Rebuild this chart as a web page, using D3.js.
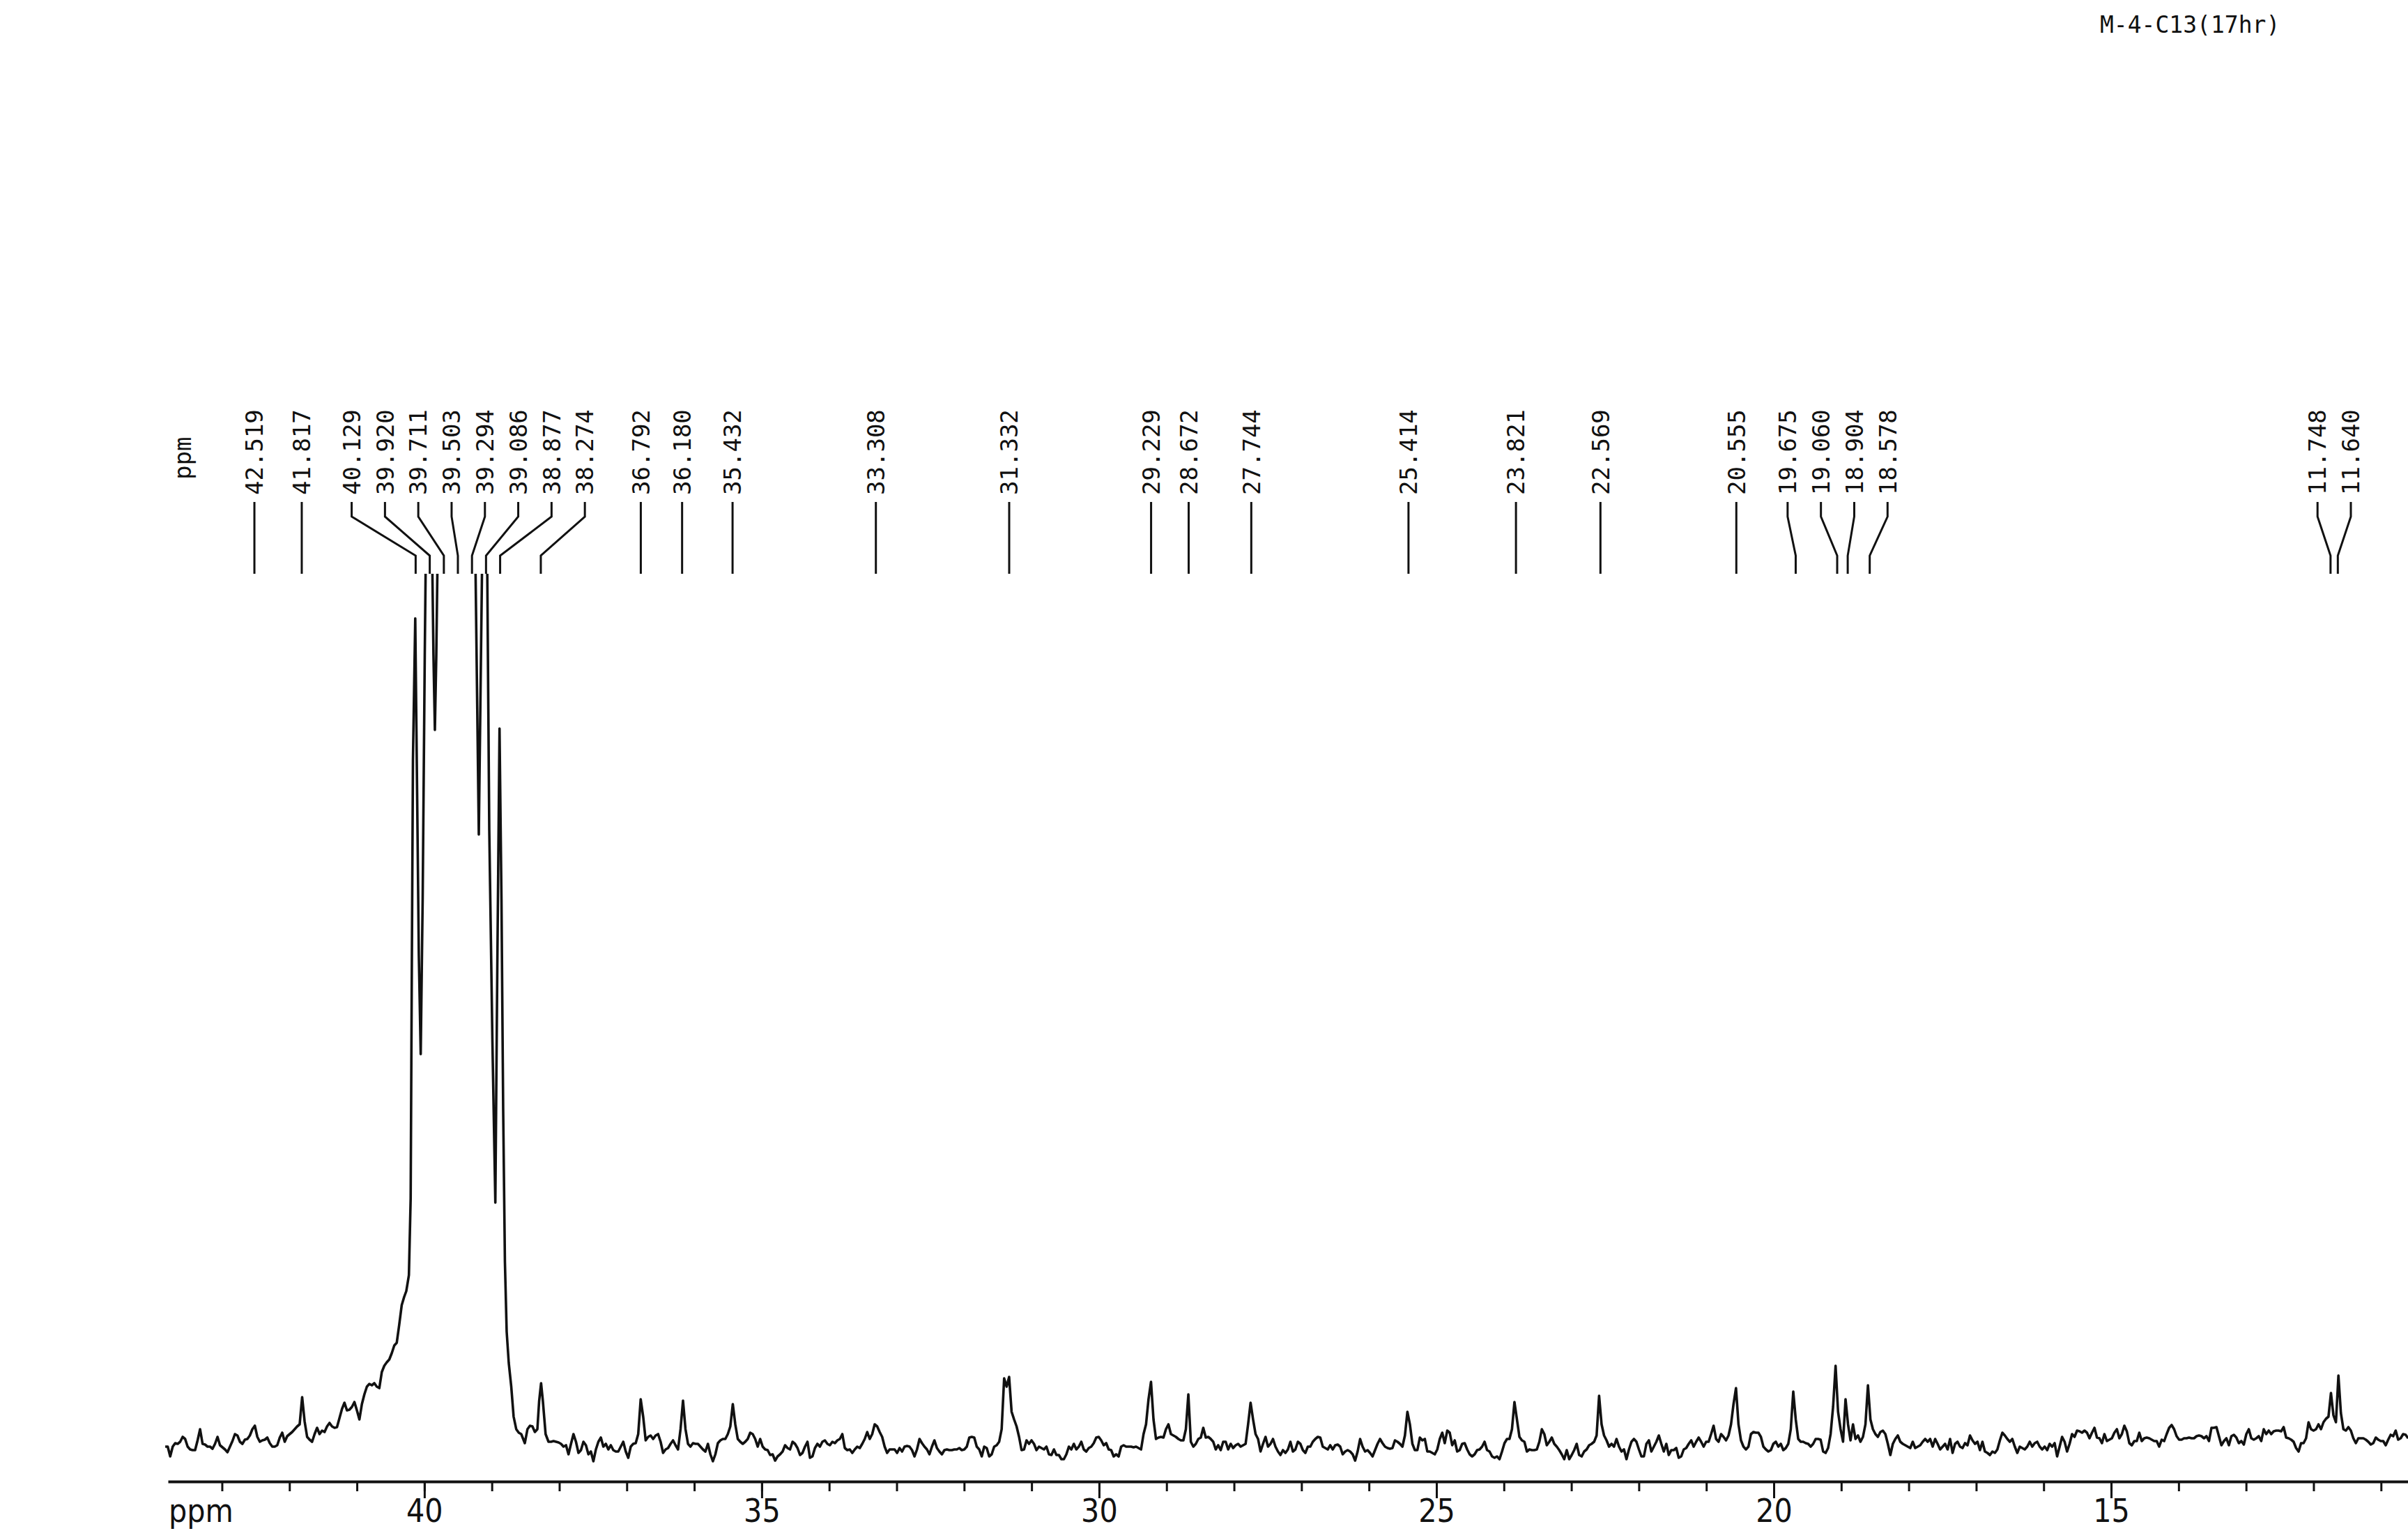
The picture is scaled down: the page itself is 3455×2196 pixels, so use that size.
<!DOCTYPE html>
<html>
<head>
<meta charset="utf-8">
<script src="https://cdn.jsdelivr.net/npm/d3@7"></script>
<style>
  body { margin: 0; background: #fff; }
  svg { display: block; }
</style>
</head>
<body>
<div id="spectrum"></div>
<script>
// Titre et graduations
const title = "M-4-C13(17hr)";
const majorTicks = [40, 35, 30, 25, 20, 15];
const minorTicks = [43, 42, 41, 40, 39, 38, 37, 36, 35, 34, 33, 32, 31, 30, 29, 28, 27, 26, 25, 24, 23, 22, 21, 20, 19, 18, 17, 16, 15, 14, 13, 12, 11];

// Pics annotés (ppm)
const peakLabels = [42.519, 41.817, 40.129, 39.920, 39.711, 39.503, 39.294, 39.086, 38.877, 38.274,
  36.792, 36.180, 35.432, 33.308, 31.332, 29.229, 28.672, 27.744, 25.414, 23.821, 22.569,
  20.555, 19.675, 19.060, 18.904, 18.578, 11.748, 11.640];

// Spectre : points réguliers (pas constant en ppm)
const stepPpm = 0.036895;

const leftStart = 43.8405;
const leftWing = [15,15,1,15,20,19,22,29,26,15,11,10,10,24,40,19,18,15,15,12,19,29,17,14,11,7,15,23,33,31,
  22,19,25,26,31,40,45,29,22,24,25,28,20,15,15,17,28,35,22,30,33,36,40,44,47,86,51,29,25,22,
  33,42,33,38,36,44,49,44,42,43,56,69,78,67,68,72,79,67,54,76,90,101,105,103,106,101,99,122,131,136,
  140,149,160,164,190,218,230];

// Massif du solvant (DMSO-d6), points irréguliers
const dmsoPpm = [40.268, 40.229, 40.203, 40.185, 40.169, 40.135, 40.107, 40.082, 40.054, 40.025,
  39.994, 39.978, 39.927, 39.885, 39.865, 39.844, 39.823, 39.803, 39.712, 39.617,
  39.503, 39.400, 39.294, 39.245, 39.193, 39.142, 39.086, 39.038, 38.992, 38.948,
  38.919, 38.886, 38.857, 38.832, 38.806, 38.780, 38.749, 38.712, 38.677, 38.638,
  38.601, 38.564, 38.511, 38.472, 38.435, 38.398, 38.362, 38.325, 38.299, 38.270,
  38.243, 38.203, 38.160];
const dmsoInt = [238, 261, 371, 717, 1000, 1203, 950, 720, 578, 800,
  1150, 1300, 1500, 1300, 1150, 1043, 1150, 1300, 1600, 1400,
  1650, 1400, 1550, 1300, 893, 1300, 1500, 900, 600, 365,
  700, 1045, 800, 500, 280, 180, 135, 101, 58, 40,
  35, 33, 20, 40, 45, 44, 36, 40, 80, 106,
  80, 33, 22];

const mainStart = 38.1218;
const run38to32 = [22,23,22,21,19,15,17,4,19,33,
  22,6,10,22,17,4,8,-6,11,22,
  28,15,19,11,17,10,8,8,15,22,
  8,-1,15,19,20,33,83,58,24,29,
  31,26,31,33,22,6,11,13,19,24,
  17,11,40,81,40,19,15,20,19,19,
  15,11,8,19,4,-6,4,20,24,26,
  26,33,44,76,47,26,22,19,22,26,
  35,33,26,15,26,15,11,10,3,4,
  -5,1,4,8,17,13,11,22,19,13,
  3,6,15,22,-1,1,13,19,15,22,
  24,19,17,22,20,24,26,33,13,10,
  11,6,11,15,13,19,26,36,26,33,
  47,44,36,29,15,6,11,11,11,6,
  13,8,15,16,15,10,1,11,26,20,
  15];
const run32to27 = [11,4,15,24,13,8,4,10,11,10,
  10,11,11,13,10,11,15,28,29,28,
  15,11,1,15,13,1,4,15,17,22,
  40,113,101,115,65,54,44,29,10,11,
  24,19,24,19,10,15,13,11,15,4,
  3,11,3,3,-3,-3,4,15,11,19,
  11,15,22,11,8,13,15,20,28,29,
  24,17,20,11,10,1,4,1,15,17,
  15,15,15,14,15,13,11,33,47,83,
  108,54,26,28,29,28,40,47,33,31,
  29,26,24,24,40,90,22,15,19,26,
  28,42,28,29,26,22,11,17,10,22,
  22,11,19,13,17,19,15,17,19,47,
  78,54,33,26,8,19,29,15,19,26,
  15,8,3,10,6,11,22,8,11,22,
  19,10,6,15];
const run27to21 = [15,22,26,29,28,15,13,11,17,11,
  17,18,15,4,8,10,8,4,-5,8,
  26,15,8,10,6,1,10,19,26,20,
  15,13,12,13,24,22,19,15,31,65,
  47,19,10,10,28,24,26,8,8,6,
  4,11,26,35,20,38,35,17,24,8,
  10,19,20,11,4,1,4,10,11,15,
  22,10,8,1,-1,1,-3,8,20,26,
  26,40,79,54,29,24,22,8,11,10,
  10,11,22,40,33,17,22,28,19,15,
  10,4,-3,10,-3,3,10,19,3,1,
  8,11,17,19,22,31,88,47,31,24,
  15,19,15,26,15,8,11,-3,11,22,
  26,22,11,1,1,19,24,8,15,22,
  31,19,8,19,3,10,10,13,-1,1,
  11,13,19,24];
const run21to15 = [15,22,28,22,15,22,22,33,45,26,
  22,33,29,24,31,47,76,99,47,24,
  15,11,15,33,36,35,35,29,15,11,
  8,10,19,22,15,19,10,13,19,40,
  94,54,26,22,22,20,19,15,19,26,
  26,25,8,6,13,33,72,131,65,40,
  22,83,47,24,47,26,31,22,29,47,
  103,54,40,33,29,36,38,33,19,3,
  19,26,31,22,19,17,15,13,22,13,
  15,17,22,26,22,26,15,26,19,11,
  15,19,11,26,6,19,22,15,13,20,
  17,31,24,19,22,10,22,8,6,3,
  8,6,11,24,35,31,26,22,26,15,
  6,15,13,11,15,22,15,20,22,15,
  11,15,10,19,15,20,1,15,29,22,
  8,19,33,29];
const run15to11 = [38,37,35,38,35,27,35,42,28,27,
  20,33,23,25,27,35,40,27,33,45,
  37,20,17,23,23,35,23,27,28,27,
  25,23,23,15,25,23,33,42,46,40,
  30,25,25,27,27,28,27,27,30,31,
  30,27,30,23,42,42,43,30,17,23,
  27,17,30,32,28,20,23,18,33,40,
  27,25,27,30,23,40,33,38,33,37,
  38,38,37,43,28,27,25,22,13,8,
  20,20,27,50,40,38,40,47,40,50,
  55,58,92,60,50,117,63,40,38,43,
  38,27,20,27,27,27,25,22,18,20,
  28,25,23,23,17,25,32,30,38,25,
  27,33,32,27];

// Mise en page
const W = 3455, H = 2196;
const axisY = 2125;
const clipTop = 823;
const ink = "#111";
const monoFont = "'DejaVu Sans Mono', 'Liberation Mono', monospace";
const narrowFont = "'Liberation Sans Narrow', 'DejaVu Sans Condensed', 'Liberation Sans', sans-serif";

const svg = d3.select("#spectrum").append("svg")
  .attr("width", W)
  .attr("height", H);

svg.append("rect").attr("width", W).attr("height", H).attr("fill", "#fff");

// Échelles
const x = d3.scaleLinear().domain([43.8, 10.6]).range([241, 3455]);
const y = d3.scaleLinear().domain([0, 1267]).range([2090, clipTop]);

// Points du spectre
const points = [];
leftWing.forEach((v, i) => points.push({ ppm: leftStart - i * stepPpm, v }));
dmsoPpm.forEach((p, i) => points.push({ ppm: p, v: dmsoInt[i] }));
[].concat(run38to32, run32to27, run27to21, run21to15, run15to11)
  .forEach((v, i) => points.push({ ppm: mainStart - i * stepPpm, v }));

svg.append("clipPath").attr("id", "plotclip")
  .append("rect")
  .attr("x", 0).attr("y", clipTop)
  .attr("width", W).attr("height", H - clipTop);

svg.append("path")
  .datum(points)
  .attr("clip-path", "url(#plotclip)")
  .attr("fill", "none")
  .attr("stroke", ink)
  .attr("stroke-width", 3.6)
  .attr("stroke-linejoin", "round")
  .attr("d", d3.line().x(d => x(d.ppm)).y(d => y(d.v)));

// Axe : graduations mineures + ligne
const gMinor = svg.append("g")
  .attr("transform", `translate(0,${axisY})`)
  .call(d3.axisBottom(x).tickValues(minorTicks).tickSize(14).tickSizeOuter(0).tickFormat(""));
gMinor.select(".domain").attr("stroke", ink).attr("stroke-width", 4);
gMinor.selectAll(".tick line").attr("stroke", ink).attr("stroke-width", 3);

// Graduations principales
const gMajor = svg.append("g")
  .attr("transform", `translate(0,${axisY})`)
  .call(d3.axisBottom(x).tickValues(majorTicks).tickSize(24).tickSizeOuter(0).tickFormat(d3.format("d")));
gMajor.select(".domain").remove();
gMajor.selectAll(".tick line").attr("stroke", ink).attr("stroke-width", 3);
gMajor.selectAll(".tick text")
  .attr("y", 58)
  .attr("dy", 0)
  .attr("fill", ink)
  .style("font-family", narrowFont)
  .style("font-size", "46px");

svg.append("text")
  .attr("x", 242)
  .attr("y", axisY + 58)
  .attr("fill", ink)
  .style("font-family", narrowFont)
  .style("font-size", "46px")
  .text("ppm");

// Étiquettes des pics : regroupement pour éviter les chevauchements
const gap = 47.8;
const peaks = peakLabels.map(p => ({ ppm: p, px: x(p) }));
let clusters = peaks.map((p, i) => ({ members: [i], center: p.px }));
const half = c => (c.members.length - 1) * gap / 2;
let merged = true;
while (merged) {
  merged = false;
  for (let i = 0; i < clusters.length - 1; i++) {
    const a = clusters[i], b = clusters[i + 1];
    if ((b.center - half(b)) - (a.center + half(a)) < gap) {
      const members = a.members.concat(b.members);
      clusters.splice(i, 2, { members, center: d3.mean(members, m => peaks[m].px) });
      merged = true;
      break;
    }
  }
}
clusters.forEach(c => {
  c.members.forEach((m, j) => { peaks[m].lx = c.center - half(c) + j * gap; });
});

const labelBase = 710;
const gLabels = svg.append("g");

gLabels.selectAll(".peak-line")
  .data(peaks)
  .enter().append("path")
  .attr("class", "peak-line")
  .attr("fill", "none")
  .attr("stroke", ink)
  .attr("stroke-width", 3)
  .attr("d", d => `M${d.lx},${labelBase + 10}V741L${d.px},797V${clipTop}`);

gLabels.selectAll(".peak-label")
  .data(peaks)
  .enter().append("text")
  .attr("class", "peak-label")
  .attr("transform", d => `translate(${d.lx},${labelBase}) rotate(-90)`)
  .attr("dy", "0.36em")
  .attr("fill", ink)
  .style("font-family", monoFont)
  .style("font-size", "34px")
  .text(d => d.ppm.toFixed(3));

svg.append("text")
  .attr("transform", "translate(262,688) rotate(-90)")
  .attr("dy", "0.36em")
  .attr("fill", ink)
  .style("font-family", monoFont)
  .style("font-size", "34px")
  .text("ppm");

// Titre
svg.append("text")
  .attr("x", 3013)
  .attr("y", 47)
  .attr("fill", ink)
  .style("font-family", monoFont)
  .style("font-size", "33px")
  .text(title);
</script>
</body>
</html>
